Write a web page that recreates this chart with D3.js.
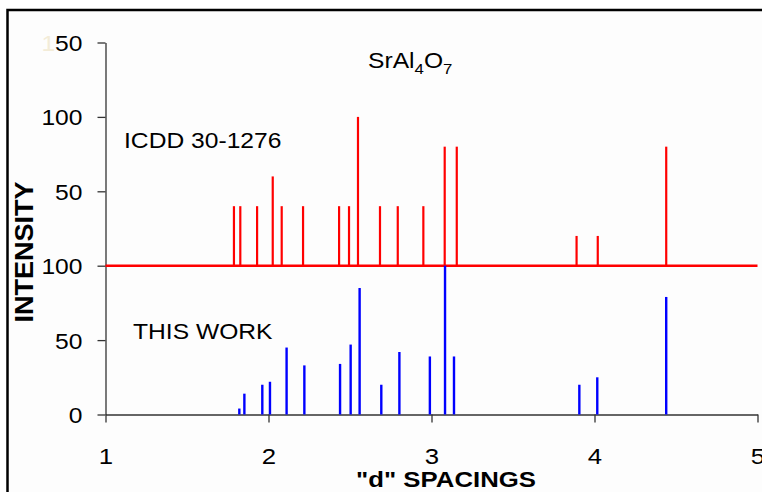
<!DOCTYPE html>
<html>
<head>
<meta charset="utf-8">
<script src="https://cdn.jsdelivr.net/npm/d3@7"></script>
<style>
  body { margin: 0; background: #fff; }
  svg { display: block; }
  text { font-family: "Liberation Sans", Arial, sans-serif; fill: #000; }
</style>
</head>
<body>
<div id="chart"></div>
<script>
// d spacings and intensities
var icddD   = [1.788, 1.827, 1.93, 2.026, 2.081, 2.212, 2.433, 2.494, 2.549, 2.684, 2.793, 2.95, 3.081, 3.155, 3.89, 4.02, 4.44];
var icddI   = [40, 40, 40, 60, 40, 40, 40, 40, 100, 40, 40, 40, 80, 80, 20, 20, 80];
var workD   = [1.821, 1.852, 1.962, 2.009, 2.111, 2.22, 2.439, 2.504, 2.559, 2.692, 2.803, 2.99, 3.083, 3.138, 3.907, 4.017, 4.44];
var workI   = [4, 14, 20, 22, 45, 33, 34, 47, 85, 20, 42, 39, 100, 39, 20, 25, 79];
var icddOffset = 100;   // red pattern sits on top of the blue one
var yTicks  = [0, 50, 100, 150, 200, 250];
var yLabels = ["0", "50", "100", "50", "100", "150"];
var xTicks  = [1, 2, 3, 4, 5];

var W = 762, H = 492;
var svg = d3.select("#chart").append("svg")
    .attr("width", W).attr("height", H);

// frame
svg.append("rect")
    .attr("x", 7.5).attr("y", 10).attr("width", W + 20).attr("height", H + 20)
    .style("fill", "#fdfdfd").style("stroke", "#000").style("stroke-width", 2.5);

var x = d3.scaleLinear().domain([1, 5]).range([105.5, 757.5]),
    y = d3.scaleLinear().domain([0, 250]).range([414.5, 42.5]);

var SX = 1.12; // text in the figure is a bit wide

// y axis
var yAxis = svg.append("g")
    .attr("transform", "translate(" + x(1) + ",0)")
    .call(d3.axisLeft(y).tickValues(yTicks).tickSize(8).tickSizeOuter(0)
        .tickFormat(function(d, i) { return yLabels[i]; }));
yAxis.select(".domain").style("stroke", "#333").style("stroke-width", 1.3);
yAxis.selectAll(".tick line").style("stroke", "#333").style("stroke-width", 1.3);
yAxis.selectAll(".tick text")
    .attr("x", null).attr("dy", null)
    .attr("transform", "translate(-23,8) scale(" + SX + ",1)")
    .attr("text-anchor", "end")
    .style("font-size", "22px").style("font-family", "Liberation Sans, Arial, sans-serif");
// the top label's leading 1 is almost lost in the figure
yAxis.selectAll(".tick text").filter(function(d) { return d === 250; })
    .text(null)
    .call(function(t) {
      t.append("tspan").style("fill", "#f3ecd8").text("1");
      t.append("tspan").text("50");
    });

// x axis
var xAxis = svg.append("g")
    .attr("transform", "translate(0," + y(0) + ")")
    .call(d3.axisBottom(x).tickValues(xTicks).tickSize(8).tickSizeOuter(0)
        .tickFormat(d3.format("d")));
xAxis.select(".domain").style("stroke", "#333").style("stroke-width", 1.3);
xAxis.selectAll(".tick line").style("stroke", "#333").style("stroke-width", 1.3);
xAxis.selectAll(".tick text")
    .attr("y", null).attr("dy", null)
    .attr("transform", "translate(0,49) scale(" + SX + ",1)")
    .attr("text-anchor", "middle")
    .style("font-size", "23px").style("font-family", "Liberation Sans, Arial, sans-serif");

// red reference baseline
svg.append("line")
    .attr("x1", x(1)).attr("x2", x(5))
    .attr("y1", y(icddOffset)).attr("y2", y(icddOffset))
    .style("stroke", "#ff0000").style("stroke-width", 2.5);

// ICDD sticks
svg.selectAll(".icdd")
    .data(icddD)
  .enter().append("line")
    .attr("class", "icdd")
    .attr("x1", function(d) { return x(d); })
    .attr("x2", function(d) { return x(d); })
    .attr("y1", y(icddOffset))
    .attr("y2", function(d, i) { return y(icddOffset + icddI[i]); })
    .style("stroke", "#ff0000").style("stroke-width", 2.2);

// this work sticks
svg.selectAll(".work")
    .data(workD)
  .enter().append("line")
    .attr("class", "work")
    .attr("x1", function(d) { return x(d); })
    .attr("x2", function(d) { return x(d); })
    .attr("y1", y(0))
    .attr("y2", function(d, i) { return y(workI[i]); })
    .style("stroke", "#0000ff").style("stroke-width", 2.4);

function label(px, py, size, weight) {
  return svg.append("text")
      .attr("transform", "translate(" + px + "," + py + ") scale(" + SX + ",1)")
      .style("font-size", size + "px")
      .style("font-weight", weight || "normal");
}

// title with subscripts
var title = label(368, 68, 22);
title.append("tspan").text("SrAl");
title.append("tspan").attr("dy", 6).style("font-size", "15px").text("4");
title.append("tspan").attr("dy", -6).text("O");
title.append("tspan").attr("dy", 6).style("font-size", "15px").text("7");

label(124, 148, 22).text("ICDD 30-1276");
label(133, 339, 22).text("THIS WORK");

label(446, 487, 23, "bold").attr("text-anchor", "middle").text("\"d\" SPACINGS");

svg.append("text")
    .attr("transform", "translate(33,252) rotate(-90) scale(1.08,1)")
    .attr("text-anchor", "middle")
    .style("font-size", "25px").style("font-weight", "bold")
    .text("INTENSITY");
</script>
</body>
</html>
